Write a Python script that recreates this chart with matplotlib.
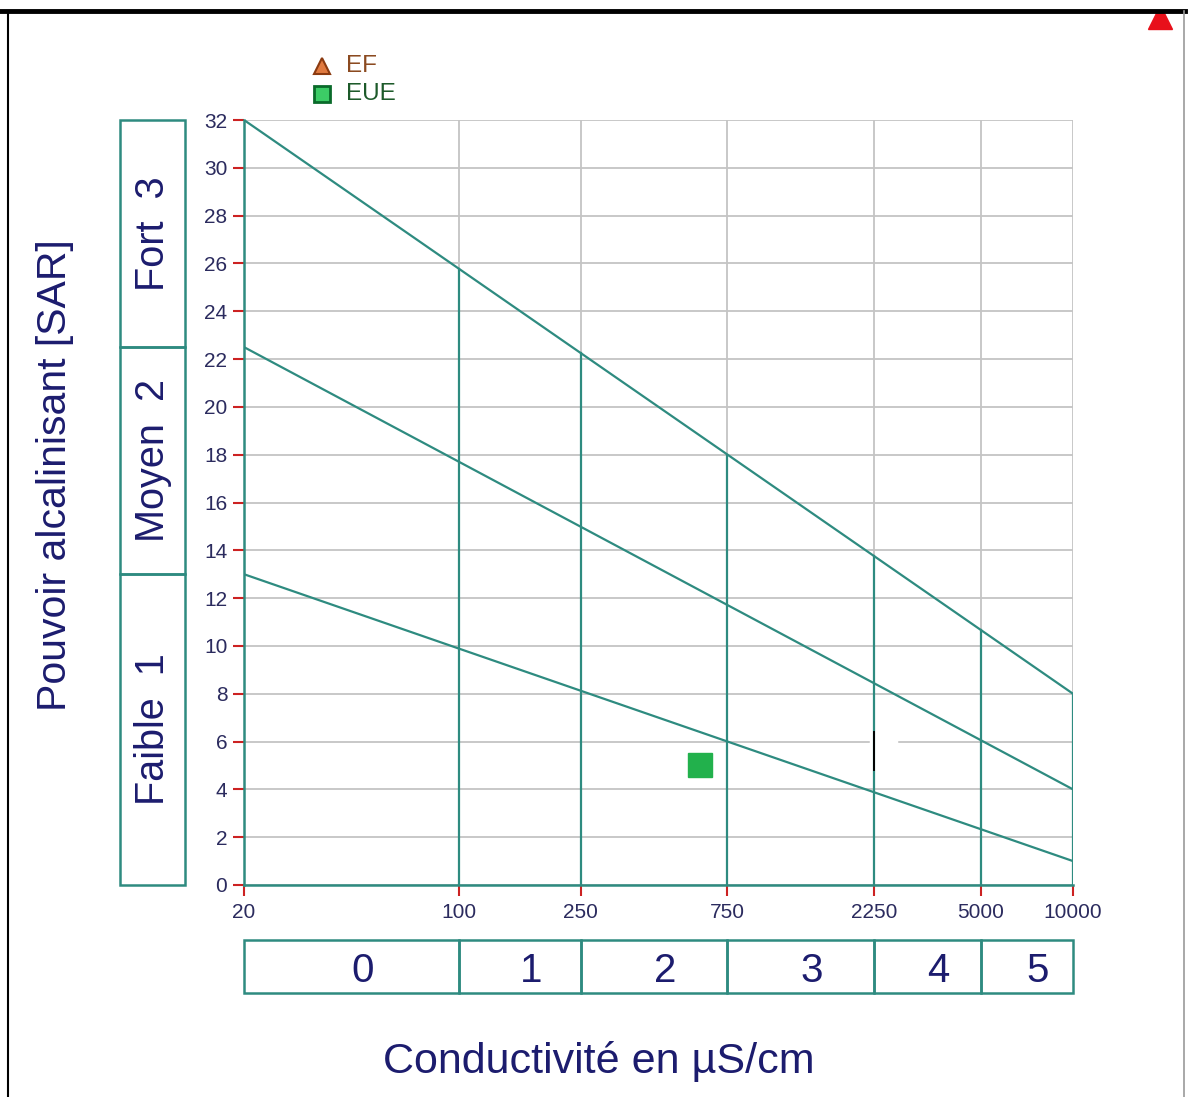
import matplotlib
matplotlib.use("Agg")
import matplotlib.pyplot as plt
import matplotlib.transforms as mtransforms
import numpy as np
from matplotlib.patches import Rectangle
from matplotlib.lines import Line2D

plt.rcParams['font.family'] = ['Liberation Sans', 'DejaVu Sans']

# ---- data ----
x_ticks = [20, 100, 250, 750, 2250, 5000, 10000]
x_tick_labels = ["20", "100", "250", "750", "2250", "5000", "10000"]
y_ticks = list(range(0, 34, 2))
line_x = [20, 10000]
line_top = [32, 8]
line_mid = [22.5, 4]
line_low = [13, 1]
class_bounds_x = [20, 100, 250, 750, 2250, 5000, 10000]
class_labels_x = ["0", "1", "2", "3", "4", "5"]
class_bounds_y = [0, 13, 22.5, 32]
class_labels_y = ["Faible  1", "Moyen  2", "Fort  3"]
eue_x = [610]
eue_y = [5]

TEAL = "#2e8b80"
GRID = "#c4c4c4"
NAVY = "#1c1c6e"
TICKC = "#2b2b5e"

W, H = 1192, 1097
fig = plt.figure(figsize=(W / 100, H / 100), dpi=100)

def fx(px):
    return px / W

def fy(py):
    return 1 - py / H

ax = fig.add_axes([fx(244), fy(885), fx(1073) - fx(244), fy(120) - fy(885)])
ax.set_xscale('log')
ax.set_xlim(20, 10000)
ax.set_ylim(0, 32)

# grid
for yv in y_ticks:
    ax.plot(line_x, [yv, yv], color=GRID, lw=1.3, zorder=1)
for xv in x_ticks[1:]:
    ax.plot([xv, xv], [0, 32], color=GRID, lw=1.3, zorder=1)

# diagonal lines
for ly in (line_top, line_mid, line_low):
    ax.plot(line_x, ly, color=TEAL, lw=1.6, zorder=3)

# vertical class boundaries up to top line
lx = np.log10(line_x)
for xv in class_bounds_x[1:]:
    top = np.interp(np.log10(xv), lx, line_top)
    ax.plot([xv, xv], [0, top], color=TEAL, lw=1.6, zorder=3)

# small artifact near 2250
ax.plot([2200, 2650], [6, 6], color="white", lw=2.5, zorder=2)
ax.plot([2250, 2250], [4.8, 6.4], color="black", lw=1.4, zorder=4)

# EUE point
ax.plot(eue_x, eue_y, marker='s', ms=17, color="#22b14c", mec="#22b14c",
        ls='none', zorder=5)

# spines and ticks
for s in ("top", "right"):
    ax.spines[s].set_visible(False)
ax.spines["left"].set_color(TEAL)
ax.spines["bottom"].set_color(TEAL)
ax.spines["left"].set_linewidth(1.8)
ax.spines["bottom"].set_linewidth(1.8)
ax.set_xticks(x_ticks)
ax.set_xticklabels(x_tick_labels)
ax.xaxis.set_minor_locator(matplotlib.ticker.NullLocator())
ax.set_yticks(y_ticks)
ax.set_yticklabels([str(v) for v in y_ticks])
ax.tick_params(axis='both', direction='out', length=8, width=1.5, colors='#cc2222',
               labelcolor=TICKC, labelsize=15)
ax.tick_params(axis='x', pad=5)
ax.tick_params(axis='y', pad=4)
ax.set_facecolor('white')

# left class boxes
axl = fig.add_axes([fx(120), fy(885), fx(185) - fx(120), fy(120) - fy(885)])
axl.set_xlim(0, 1)
axl.set_ylim(0, 32)
axl.axis('off')
for i, lab in enumerate(class_labels_y):
    y0, y1 = class_bounds_y[i], class_bounds_y[i + 1]
    axl.add_patch(Rectangle((0, y0), 1, y1 - y0, fill=False, ec=TEAL, lw=1.8, clip_on=False))
    axl.text(0.5, (y0 + y1) / 2, lab, rotation=90, ha='center', va='center',
             fontsize=28.5, color=NAVY)

# bottom class boxes
axb = fig.add_axes([fx(244), fy(993), fx(1073) - fx(244), fy(940) - fy(993)])
axb.set_xscale('log')
axb.set_xlim(20, 10000)
axb.set_ylim(0, 1)
axb.axis('off')
shift = mtransforms.ScaledTranslation(0.11, -0.05, fig.dpi_scale_trans)
for i, lab in enumerate(class_labels_x):
    x0, x1 = class_bounds_x[i], class_bounds_x[i + 1]
    axb.add_patch(Rectangle((x0, 0), x1 - x0, 1, fill=False, ec=TEAL, lw=1.8, clip_on=False))
    xm = 10 ** ((np.log10(x0) + np.log10(x1)) / 2)
    axb.text(xm, 0.5, lab, ha='center', va='center', fontsize=29, color=NAVY,
             transform=axb.transData + shift)

# axis titles
fig.text(fx(55), fy(475), "Pouvoir alcalinisant [SAR]", rotation=90, ha='center',
         va='center', fontsize=29.5, color=NAVY)
fig.text(fx(599), fy(1062), "Conductivité en µS/cm", ha='center', va='center',
         fontsize=31, color=NAVY)

# legend
fig.add_artist(Line2D([fx(322)], [fy(66)], marker='^', ms=12, mfc="#e07a40", mec="#8b3a10",
                      mew=1.5, ls='none'))
fig.text(fx(346), fy(66), "EF", ha='left', va='center', fontsize=17.5, color="#8b4a20")
fig.add_artist(Line2D([fx(322)], [fy(94)], marker='s', ms=11, mfc="#3ccc66", mec="#0a6a2a",
                      mew=2, ls='none'))
fig.text(fx(346), fy(94), "EUE", ha='left', va='center', fontsize=17.5, color="#1d5a2a")

# clipped red marker at top right
fig.add_artist(Line2D([fx(1160)], [fy(17)], marker='^', ms=17, color="#e8101a",
                      ls='none', zorder=5))

# frame
fig.add_artist(Rectangle((0, fy(11)), 1, 1 - fy(11), fc='white', ec='none', zorder=6))
fig.add_artist(Line2D([0, fx(1185)], [fy(11), fy(11)], color='black', lw=3.5, zorder=7))
fig.add_artist(Line2D([fx(8), fx(8)], [0, fy(11)], color='black', lw=1.5, zorder=7))
fig.add_artist(Line2D([fx(1184), fx(1184)], [0, fy(11)], color='#999999', lw=1.2, zorder=7))

fig.savefig("out.png", dpi=100, facecolor='white')
